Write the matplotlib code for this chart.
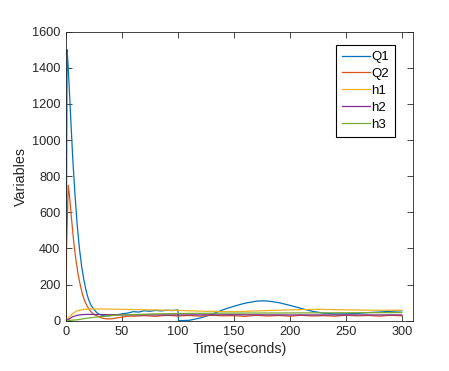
import numpy as np
import matplotlib.pyplot as plt

plt.rcParams['font.family'] = ['Liberation Sans', 'DejaVu Sans']

# Q1
t_q1 = [0, 1, 2, 4, 6, 8, 10, 12, 14, 16, 18, 20, 22, 24, 26, 28, 30, 33, 36, 40,
        45, 50, 55, 60, 65, 70, 75, 80, 85, 90, 95, 100, 100.5, 110, 120, 130, 140,
        150, 160, 170, 175, 180, 190, 200, 210, 220, 230, 240, 250, 260, 270, 280, 290, 300]
q1 = [0, 1500, 1400, 1150, 900, 700, 530, 400, 300, 225, 165, 120, 90, 70, 55, 42, 35, 28, 27, 28,
      32, 38, 42, 50, 48, 55, 52, 57, 54, 58, 56, 60, 0, 2, 15, 35, 60,
      80, 97, 108, 110, 109, 100, 85, 68, 52, 42, 38, 38, 40, 45, 48, 52, 55]

# Q2
t_q2 = [0, 0.5, 2, 3, 5, 7, 9, 11, 13, 15, 17, 19, 21, 23, 25, 28, 32, 36, 40, 45, 50, 55, 60,
        70, 80, 90, 100, 110, 120, 130, 140, 150, 160, 170, 180, 190, 200, 210, 220, 230,
        240, 250, 260, 270, 280, 290, 300]
q2 = [0, 400, 750, 700, 560, 430, 330, 250, 190, 140, 105, 80, 60, 45, 35, 25, 15, 10, 10, 15, 20, 25, 25,
      28, 24, 30, 26, 29, 25, 30, 27, 28, 24, 30, 26, 29, 25, 30, 26, 28,
      25, 30, 27, 29, 25, 30, 27]

# h1
t_h1 = [0, 3, 6, 10, 15, 20, 30, 50, 75, 100, 125, 150, 175, 200, 225, 250, 275, 300]
h1 = [0, 20, 40, 55, 62, 65, 65, 63, 60, 57, 52, 50, 55, 60, 63, 60, 58, 58]

# h2
t_h2 = [0, 3, 6, 10, 15, 20, 40, 60, 100, 150, 200, 250, 300]
h2 = [0, 10, 22, 30, 34, 35, 33, 32, 32, 33, 32, 32, 32]

# h3
t_h3 = [0, 10, 20, 30, 40, 50, 75, 100, 150, 200, 250, 300]
h3 = [0, 5, 15, 22, 28, 32, 37, 40, 42, 43, 44, 45]

fig = plt.figure(figsize=(4.49, 3.71), dpi=100)
ax = fig.add_axes([66 / 449, 1 - 320.7 / 371, 347 / 449, 289 / 371])

lw = 0.9
ax.plot(t_q1, q1, color='#0072BD', lw=lw, label='Q1')
ax.plot(t_q2, q2, color='#D95319', lw=lw, label='Q2')
ax.plot(t_h1, h1, color='#EDB120', lw=lw, label='h1')
ax.plot(t_h2, h2, color='#7E2F8E', lw=lw, label='h2')
ax.plot(t_h3, h3, color='#77AC30', lw=lw, label='h3')

ax.set_xlim(0, 310)
ax.set_ylim(0, 1600)
ax.set_xticks([0, 50, 100, 150, 200, 250, 300])
ax.set_yticks(np.arange(0, 1601, 200))
ax.tick_params(direction='in', top=True, right=True, labelsize=9.2, length=4, width=0.6,
               colors='#262626', pad=4)
for s in ax.spines.values():
    s.set_linewidth(0.6)
    s.set_color('#262626')
ax.set_xlabel('Time(seconds)', fontsize=10.3, color='#262626', labelpad=3)
ax.set_ylabel('Variables', fontsize=10.3, color='#262626', labelpad=3)

leg = ax.legend(loc='upper right', bbox_to_anchor=(395 / 449, 1 - 45 / 371), bbox_transform=fig.transFigure,
                fontsize=9.5, fancybox=False, framealpha=1, edgecolor='black', handlelength=2.1,
                handletextpad=0.1, borderpad=0.45, labelspacing=0.35, borderaxespad=0)
leg.get_frame().set_linewidth(0.8)

fig.savefig('out.png', dpi=100)
